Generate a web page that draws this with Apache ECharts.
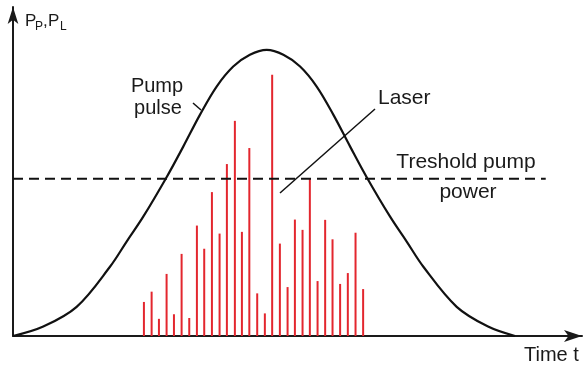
<!DOCTYPE html>
<html>
<head>
<meta charset="utf-8">
<script src="https://cdn.jsdelivr.net/npm/echarts@6/dist/echarts.min.js"></script>
<style>
html,body{margin:0;padding:0;background:#fff;}
#c{width:583px;height:367px;}
</style>
</head>
<body>
<div id="c"></div>
<script>
// Laser spikes: time (arbitrary units) and power (pump peak = 1)
const spikeTimes = [23.1, 24.46, 25.75, 27.1, 28.4, 29.75, 31.1, 32.45, 33.74, 35.1,
  36.45, 37.74, 39.15, 40.39, 41.7, 43.09, 44.44, 45.73, 47.09, 48.45,
  49.74, 51.09, 52.38, 53.74, 55.08, 56.38, 57.72, 59.08, 60.44, 61.78];
const spikePower = [0.119, 0.155, 0.060, 0.217, 0.076, 0.287, 0.063, 0.386, 0.305, 0.503,
  0.358, 0.601, 0.752, 0.364, 0.657, 0.149, 0.079, 0.913, 0.323, 0.171,
  0.407, 0.371, 0.552, 0.192, 0.406, 0.338, 0.182, 0.220, 0.361, 0.164];
// Pump pulse
const pumpTimes = [0, 5.34, 11.23, 17.11, 20.05, 22.98, 27.1, 30.04, 32.98, 35.93, 38.86, 41.8,
  44.77, 47.71, 50.66, 53.59, 56.54, 59.49, 62.41, 66.54, 69.47, 72.41, 78.29, 83.82, 88.58];
const pumpPower = [0, 0.033, 0.102, 0.242, 0.330, 0.417, 0.555, 0.662, 0.773, 0.872, 0.942, 0.983,
  1.0, 0.983, 0.942, 0.872, 0.773, 0.662, 0.555, 0.417, 0.330, 0.242, 0.102, 0.033, 0];
const threshold = 0.55;
const thresholdSpan = [0, 94];
const xMax = 100.4;
const yMax = 1.15;

const chart = echarts.init(document.getElementById('c'), null, {renderer: 'canvas'});
const font = '"Liberation Sans", Arial, Helvetica, sans-serif';
const txt = '#1a1a1a';
function T(text, x, y, size, align) {
  return {type: 'text', x: x, y: y, silent: true,
    style: {text: text, font: size + 'px ' + font, fill: txt, textAlign: align || 'left', textVerticalAlign: 'middle'}};
}
chart.setOption({
  animation: false,
  grid: {left: 13, right: 1, top: 7, bottom: 31, containLabel: false},
  xAxis: {type: 'value', min: 0, max: xMax,
    axisLine: {show: true, lineStyle: {color: '#1a1a1a', width: 2}, symbol: ['none', 'arrow'], symbolSize: [9, 18]},
    axisTick: {show: false}, axisLabel: {show: false}, splitLine: {show: false}},
  yAxis: {type: 'value', min: 0, max: yMax,
    axisLine: {show: true, onZero: false, lineStyle: {color: '#1a1a1a', width: 2}, symbol: ['none', 'arrow'], symbolSize: [8, 17]},
    axisTick: {show: false}, axisLabel: {show: false}, splitLine: {show: false}},
  series: [
    {type: 'bar', barWidth: 2, data: spikeTimes.map((t, i) => [t, spikePower[i]]),
     itemStyle: {color: '#e3262e'}, z: 2},
    {type: 'line', data: pumpTimes.map((t, i) => [t, pumpPower[i]]), smooth: 0.35, showSymbol: false,
     lineStyle: {color: '#111', width: 2.2}, z: 3},
    {type: 'line', data: thresholdSpan.map(t => [t, threshold]), showSymbol: false,
     lineStyle: {color: '#111', width: 2, type: [10, 6]}, z: 4}
  ],
  graphic: [
    T('Pump', 157, 86, 20, 'center'),
    T('pulse', 158, 108, 20, 'center'),
    {type: 'line', silent: true, shape: {x1: 193, y1: 103, x2: 201, y2: 110}, style: {stroke: '#111', lineWidth: 1.5}},
    T('Laser', 378, 98, 21),
    {type: 'line', silent: true, shape: {x1: 280, y1: 193, x2: 375, y2: 109}, style: {stroke: '#111', lineWidth: 1.5}},
    T('Treshold pump', 466, 162, 21, 'center'),
    T('power', 468, 192, 21, 'center'),
    T('Time t', 524, 355, 20),
    T('P', 25, 21, 17),
    T('P', 35, 27, 12),
    T(',', 43, 21, 17),
    T('P', 48, 21, 17),
    T('L', 60, 27, 12)
  ]
});
</script>
</body>
</html>
